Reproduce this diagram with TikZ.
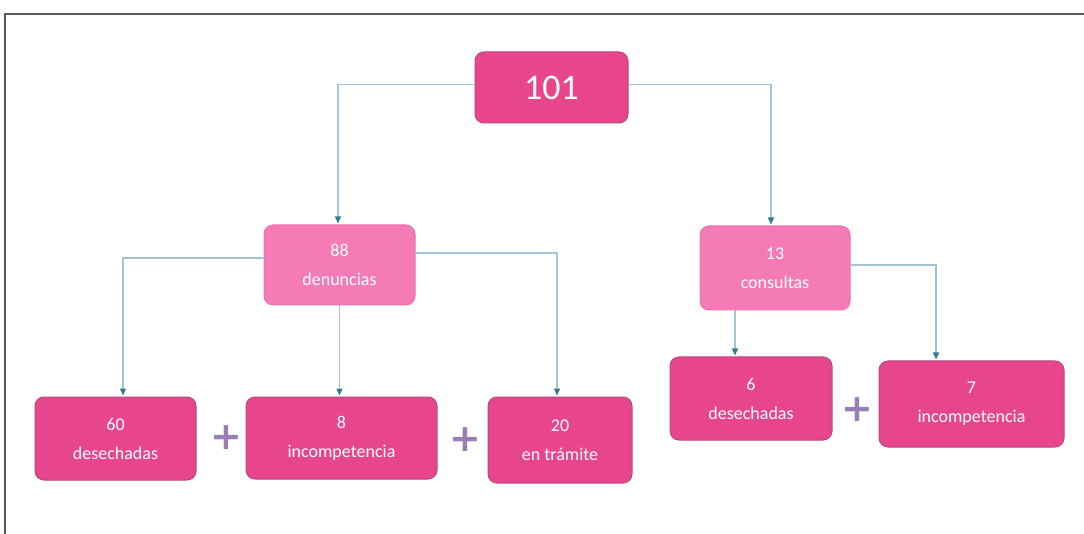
\documentclass[tikz,border=0pt]{standalone}
\usepackage{fontspec}
\setmainfont{Carlito}
\newfontfamily\plusfont{DejaVu Sans}
\usepackage{tikz}
\usetikzlibrary{arrows.meta}

\definecolor{darkpink}{HTML}{E8468C}
\definecolor{lightpink}{HTML}{F47BB5}
\definecolor{boxedge}{HTML}{B8487E}
\definecolor{linkblue}{HTML}{A5C3D6}
\definecolor{tipteal}{HTML}{2F7E8E}
\definecolor{plusviolet}{HTML}{9A7CB6}

\tikzset{
  darkbox/.style={draw=boxedge, line width=1pt, fill=darkpink, rounded corners=9pt,
    text=white, align=center, font=\fontsize{18}{29}\selectfont, inner sep=0pt},
  lightbox/.style={darkbox, fill=lightpink, draw=lightpink!85!boxedge},
  link/.style={draw=linkblue, line width=1.4pt, -{Triangle[length=7pt,width=6pt,fill=tipteal,color=tipteal]}, shorten >=1pt},
  plus/.style={text=plusviolet, font=\plusfont\fontsize{38}{38}\selectfont\bfseries, inner sep=0pt}
}

\begin{document}
\begin{tikzpicture}[x=1pt,y=-1pt]
\useasboundingbox (0,0) rectangle (1084,534);
% frame
\draw[color=black!65, line width=1.2pt] (5,534) -- (5,14) -- (1084,14);

% top
\node[darkbox, minimum width=153pt, minimum height=71pt, font=\fontsize{36}{36}\selectfont] (root) at (551.5,87.5) {101};

% second row
\node[lightbox, minimum width=151pt, minimum height=80pt] (den) at (339.5,265) {88\\denuncias};
\node[lightbox, minimum width=150pt, minimum height=84pt] (con) at (775,268) {13\\consultas};

% third row
\node[darkbox, minimum width=161pt, minimum height=83pt] (d60) at (115.5,438.5) {60\\desechadas};
\node[darkbox, minimum width=191pt, minimum height=82pt] (i8) at (341.5,438) {8\\incompetencia};
\node[darkbox, minimum width=144pt, minimum height=86pt] (tram) at (560,440) {20\\en trámite};
\node[darkbox, minimum width=162pt, minimum height=83pt] (d6) at (751,398.5) {6\\desechadas};
\node[darkbox, minimum width=185pt, minimum height=86pt] (i7) at (971.5,404) {7\\incompetencia};

% plus signs
\node[plus] (p1) at (226,438) {+};
\node[plus] (p2) at (465,440) {+};
\node[plus] (p3) at (857,410) {+};

% links
\draw[link] ([yshift=3pt]root.west) -| ([xshift=-1.5pt]den.north);
\draw[link] ([yshift=3pt]root.east) -| ([xshift=-4pt]con.north);
\draw[link] ([yshift=7pt]den.west) -| ([xshift=7.5pt]d60.north);
\draw[link] (den.south) -- (den.south |- i8.north);
\draw[link] ([yshift=12pt]den.east) -| ([xshift=-3pt]tram.north);
\draw[link] ([xshift=-40pt]con.south) -- ([xshift=-40pt]con.south |- d6.north);
\draw[link] ([yshift=3pt]con.east) -| ([xshift=-35.5pt]i7.north);

\end{tikzpicture}
\end{document}
